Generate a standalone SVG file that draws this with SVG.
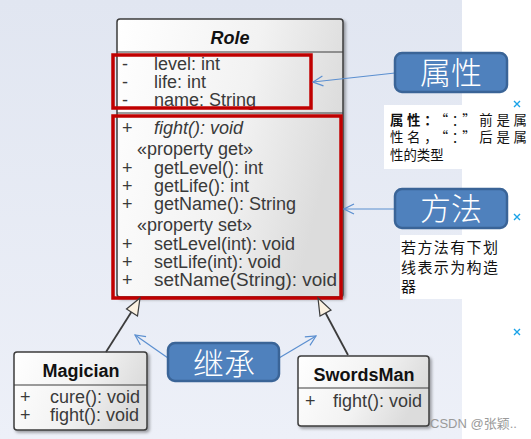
<svg xmlns="http://www.w3.org/2000/svg" width="531" height="439" viewBox="0 0 531 439">
<defs>
<linearGradient id="bg" x1="0" y1="0" x2="0" y2="1">
<stop offset="0" stop-color="#e1e6f1"/>
<stop offset="1" stop-color="#edf0f8"/>
</linearGradient>
<linearGradient id="cls" x1="0" y1="0" x2="1" y2="0.3">
<stop offset="0" stop-color="#ffffff"/>
<stop offset="0.6" stop-color="#f2f2f2"/>
<stop offset="1" stop-color="#dcdcdc"/>
</linearGradient>
<marker id="open" viewBox="0 0 12 12" refX="11" refY="6" markerWidth="12" markerHeight="12" markerUnits="userSpaceOnUse" orient="auto">
<path d="M1,1 L11,6 L1,11" fill="none" stroke="#5b8fd0" stroke-width="1.2"/>
</marker>
<filter id="sh" x="-10%" y="-10%" width="130%" height="130%">
<feDropShadow dx="2" dy="2" stdDeviation="1.5" flood-color="#000" flood-opacity="0.35"/>
</filter>
</defs>
<style>
.box{fill:url(#cls);stroke:#3c3c3c;stroke-width:1.5}
.div{stroke:#3c3c3c;stroke-width:1.2}
.t{font-family:"Liberation Sans",Arial,sans-serif;font-size:18px;fill:#3a3a3a}
.h{font-family:"Liberation Sans",Arial,sans-serif;font-size:18px;font-weight:bold;fill:#111;text-anchor:middle}
.red{fill:none;stroke:#c00000;stroke-width:3.5}
.call{fill:#4f81bd;stroke:#3a6497;stroke-width:2.5}
.ct{font-family:"Noto Sans CJK SC",sans-serif;font-size:31px;fill:#ffffff;text-anchor:middle;font-weight:300}
.bl{stroke:#5b8fd0;stroke-width:1.2;fill:none}
.note{font-family:"Noto Sans CJK SC",sans-serif;fill:#111}
.inh{stroke:#3c3c3c;stroke-width:1.8;fill:none}
.tri{fill:#fbf1e1;stroke:#3c3c3c;stroke-width:1.2}
.x{stroke:#1aa3e8;stroke-width:1.4}
</style>
<rect x="0" y="0" width="462" height="439" fill="url(#bg)"/>
<rect x="462" y="0" width="69" height="439" fill="#ffffff"/>

<g id="Role">
<rect class="box" x="117" y="19" width="226" height="278" rx="3" filter="url(#sh)"/>
<line class="div" x1="117" y1="52" x2="343" y2="52"/>
<line class="div" x1="117" y1="113" x2="343" y2="113"/>
<text class="h" x="230" y="44" font-style="italic">Role</text>
<text class="t" x="122" y="70">-</text><text class="t" x="154" y="70">level: int</text>
<text class="t" x="122" y="88">-</text><text class="t" x="154" y="88">life: int</text>
<text class="t" x="122" y="106">-</text><text class="t" x="154" y="106">name: String</text>
<text class="t" x="122" y="134">+</text><text class="t" x="154" y="134" font-style="italic">fight(): void</text>
<text class="t" x="137" y="155" fill="#111">«property get»</text>
<text class="t" x="122" y="174">+</text><text class="t" x="154" y="174">getLevel(): int</text>
<text class="t" x="122" y="192">+</text><text class="t" x="154" y="192">getLife(): int</text>
<text class="t" x="122" y="210">+</text><text class="t" x="154" y="210">getName(): String</text>
<text class="t" x="137" y="231" fill="#111">«property set»</text>
<text class="t" x="122" y="250">+</text><text class="t" x="154" y="250">setLevel(int): void</text>
<text class="t" x="122" y="268">+</text><text class="t" x="154" y="268">setLife(int): void</text>
<text class="t" x="122" y="286">+</text><text class="t" x="154" y="286" textLength="183" lengthAdjust="spacingAndGlyphs">setName(String): void</text>
<rect class="red" x="113" y="55" width="198" height="53"/>
<rect class="red" x="113" y="116" width="228" height="182"/>
</g>

<g id="Magician">
<rect class="box" x="14" y="352" width="133" height="78" rx="3" filter="url(#sh)"/>
<line class="div" x1="14" y1="385" x2="147" y2="385"/>
<text class="h" x="81" y="377">Magician</text>
<text class="t" x="20" y="403">+</text><text class="t" x="50" y="403">cure(): void</text>
<text class="t" x="20" y="421">+</text><text class="t" x="50" y="421">fight(): void</text>
</g>

<g id="SwordsMan">
<rect class="box" x="298" y="356" width="131" height="70" rx="3" filter="url(#sh)"/>
<line class="div" x1="298" y1="388" x2="429" y2="388"/>
<text class="h" x="364" y="381">SwordsMan</text>
<text class="t" x="305" y="407">+</text><text class="t" x="333" y="407">fight(): void</text>
</g>

<g id="connectors">
<line class="inh" x1="106" y1="352" x2="132" y2="311"/>
<polygon class="tri" points="140,298 137.5,316 126.5,309"/>
<line class="inh" x1="348" y1="355" x2="325" y2="312"/>
<polygon class="tri" points="318,298 331,310 320,316"/>
<line class="bl" x1="168" y1="358" x2="135" y2="335" marker-end="url(#open)"/>
<line class="bl" x1="279" y1="358" x2="316" y2="336" marker-end="url(#open)"/>
<line class="bl" x1="395" y1="73" x2="313" y2="82" marker-end="url(#open)"/>
<line class="bl" x1="395" y1="209" x2="344" y2="209" marker-end="url(#open)"/>
</g>

<g id="callout-inherit">
<rect class="call" x="168" y="343" width="111" height="38" rx="7"/>
<text class="ct" x="224" y="375">继承</text>
</g>
<g id="callout-attr">
<rect class="call" x="395" y="53" width="112" height="39" rx="7"/>
<text class="ct" x="451" y="84">属性</text>
</g>
<g id="callout-method">
<rect class="call" x="395" y="189" width="112" height="39" rx="7"/>
<text class="ct" x="451" y="220">方法</text>
</g>

<g id="note-attr">
<rect x="384" y="105" width="80" height="64" fill="#ffffff"/>
<text class="note" font-size="13.4"><tspan x="390" y="124.5" textLength="137" lengthAdjust="spacing"><tspan font-weight="bold">属性：</tspan>“：”前是属</tspan><tspan x="390" y="142" textLength="137" lengthAdjust="spacing">性名，“：”后是属</tspan><tspan x="390" y="159.5">性的类型</tspan></text>
</g>
<g id="note-method">
<rect x="400" y="235" width="64" height="64" fill="#ffffff"/>
<text class="note" font-size="15"><tspan x="401" y="253" textLength="97" lengthAdjust="spacing">若方法有下划</tspan><tspan x="401" y="272.5" textLength="97" lengthAdjust="spacing">线表示为构造</tspan><tspan x="401" y="292">器</tspan></text>
</g>

<g id="marks">
<path class="x" d="M514,101 l6,6 M520,101 l-6,6"/>
<path class="x" d="M514,214 l6,6 M520,214 l-6,6"/>
<path class="x" d="M514,329 l6,6 M520,329 l-6,6"/>
</g>
<text x="430" y="428" font-family="'Liberation Sans','Noto Sans CJK SC',sans-serif" font-size="13" fill="#9a9a9a">CSDN @张颖..</text>
</svg>
